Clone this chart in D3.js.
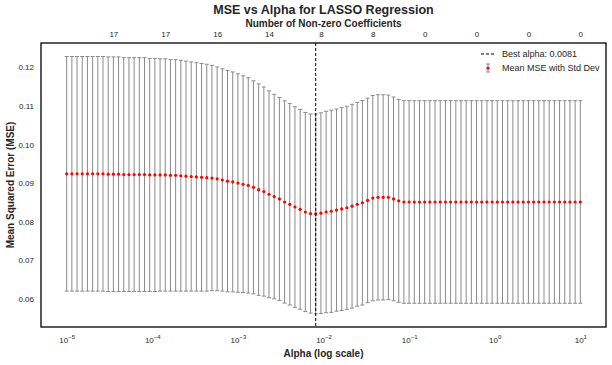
<!DOCTYPE html>
<html><head><meta charset="utf-8">
<script src="https://cdn.jsdelivr.net/npm/d3@7"></script>
<style>
html,body{margin:0;padding:0;background:#fff;}
svg{display:block;font-family:"Liberation Sans",Arial,sans-serif;}
</style></head>
<body><svg id="c" width="612" height="365"></svg>
<script>
// alpha grid: np.logspace(-5, 1, 100)
const alphaCount = 100;
const alphas = d3.range(alphaCount).map(i => Math.pow(10, -5 + 6 * i / (alphaCount - 1)));

const meanMSE = [
  0.0924,0.0924,0.0924,0.0924,0.0924,0.0924,0.0924,0.0924,0.0923,0.0923,
  0.0923,0.0922,0.0922,0.0922,0.0922,0.0922,0.0921,0.0921,0.0921,0.0921,
  0.0920,0.0920,0.0919,0.0918,0.0917,0.0916,0.0915,0.0914,0.0913,0.0911,
  0.0908,0.0905,0.0903,0.0900,0.0897,0.0894,0.0889,0.0883,0.0878,0.0871,
  0.0865,0.0859,0.0851,0.0845,0.0838,0.0832,0.0825,0.0821,0.0820,0.0822,
  0.0825,0.0827,0.0830,0.0833,0.0836,0.0840,0.0845,0.0849,0.0855,0.0861,
  0.0863,0.0863,0.0863,0.0859,0.0854,0.0851,0.0851,0.0851,0.0851,0.0851,
  0.0851,0.0851,0.0851,0.0851,0.0851,0.0851,0.0851,0.0851,0.0851,0.0851,
  0.0851,0.0851,0.0851,0.0851,0.0851,0.0851,0.0851,0.0851,0.0851,0.0851,
  0.0851,0.0851,0.0851,0.0851,0.0851,0.0851,0.0851,0.0851,0.0851,0.0851
];
const stdMSE = [
  0.0304,0.0304,0.0304,0.0304,0.0304,0.0304,0.0304,0.0304,0.0304,0.0304,
  0.0304,0.0303,0.0303,0.0303,0.0303,0.0303,0.0302,0.0302,0.0301,0.0301,
  0.0300,0.0300,0.0299,0.0298,0.0297,0.0296,0.0295,0.0294,0.0292,0.0290,
  0.0288,0.0287,0.0285,0.0283,0.0281,0.0279,0.0276,0.0274,0.0271,0.0268,
  0.0265,0.0263,0.0262,0.0261,0.0260,0.0259,0.0258,0.0258,0.0259,0.0260,
  0.0261,0.0262,0.0262,0.0263,0.0263,0.0264,0.0264,0.0265,0.0265,0.0266,
  0.0266,0.0266,0.0265,0.0264,0.0263,0.02625,0.02625,0.02625,0.02625,0.02625,
  0.02625,0.02625,0.02625,0.02625,0.02625,0.02625,0.02625,0.02625,0.02625,0.02625,
  0.02625,0.02625,0.02625,0.02625,0.02625,0.02625,0.02625,0.02625,0.02625,0.02625,
  0.02625,0.02625,0.02625,0.02625,0.02625,0.02625,0.02625,0.02625,0.02625,0.02625
];
// top axis: every 10th alpha starting at index 9
const topTickIndex = [9,19,29,39,49,59,69,79,89,99];
const nonzeroLabels = ["17","17","16","14","8","8","0","0","0","0"];
const yTicks = [0.06,0.07,0.08,0.09,0.10,0.11,0.12];
const xTickExps = [-5,-4,-3,-2,-1,0,1];

const bestIdx = d3.minIndex(meanMSE);
const bestAlpha = alphas[bestIdx];

const svg = d3.select("#c");
const L = 41, R = 606, T = 43, B = 327;
const txt = "#262626";

const x = d3.scaleLog().domain([Math.pow(10,-5.3), Math.pow(10,1.3)]).range([L, R]);
const y = d3.scaleLinear().domain([0.0527, 0.1263]).range([B, T]);

const g = svg.append("g");

// error bars
const eb = g.append("g").attr("stroke", "#8a8a8a").attr("stroke-width", 1);
alphas.forEach((a, i) => {
  const cx = x(a), y1 = y(meanMSE[i] + stdMSE[i]), y0 = y(meanMSE[i] - stdMSE[i]);
  eb.append("line").attr("x1", cx).attr("x2", cx).attr("y1", y1).attr("y2", y0);
  eb.append("line").attr("x1", cx - 2).attr("x2", cx + 2).attr("y1", y1).attr("y2", y1);
  eb.append("line").attr("x1", cx - 2).attr("x2", cx + 2).attr("y1", y0).attr("y2", y0);
});

// markers
g.append("g").selectAll("circle").data(alphas).join("circle")
  .attr("cx", d => x(d)).attr("cy", (d, i) => y(meanMSE[i]))
  .attr("r", 1.6).attr("fill", "#ff0000");

// best alpha line
g.append("line").attr("x1", x(bestAlpha)).attr("x2", x(bestAlpha))
  .attr("y1", T).attr("y2", B).attr("stroke", "#000").attr("stroke-width", 1)
  .attr("stroke-dasharray", "3,2");

// frame
svg.append("rect").attr("x", L).attr("y", T).attr("width", R - L).attr("height", B - T)
  .attr("fill", "none").attr("stroke", "#000").attr("stroke-width", 1.3);

// y axis labels
const yAxis = d3.axisLeft(y).tickValues(yTicks).tickSize(0).tickPadding(7).tickFormat(d3.format(".2f"));
const ya = svg.append("g").attr("transform", `translate(${L},0)`).call(yAxis);
ya.select(".domain").remove();
ya.selectAll("text").attr("font-size", 8).attr("fill", txt).attr("font-family", "Liberation Sans, Arial, sans-serif");

// x axis labels with superscripts
const xAxis = d3.axisBottom(x).tickValues(xTickExps.map(e => Math.pow(10, e))).tickSize(0).tickFormat("");
const xa = svg.append("g").attr("transform", `translate(0,${B})`).call(xAxis);
xa.select(".domain").remove();
xa.selectAll(".tick").each(function(d, i) {
  const t = d3.select(this).append("text").attr("y", 16).attr("fill", txt)
    .attr("font-size", 8).attr("text-anchor", "middle");
  t.append("tspan").text("10");
  t.append("tspan").attr("dy", -4).attr("font-size", 6).text(xTickExps[i] < 0 ? "\u2212" + Math.abs(xTickExps[i]) : String(xTickExps[i]));
});

// top axis labels
const topAxis = d3.axisTop(x).tickValues(topTickIndex.map(i => alphas[i])).tickSize(0).tickPadding(6)
  .tickFormat((d, i) => nonzeroLabels[i]);
const ta = svg.append("g").attr("transform", `translate(0,${T})`).call(topAxis);
ta.select(".domain").remove();
ta.selectAll("text").attr("font-size", 8).attr("fill", txt).attr("font-family", "Liberation Sans, Arial, sans-serif");

// titles
svg.append("text").attr("x", (L + R) / 2).attr("y", 14).attr("text-anchor", "middle")
  .attr("font-size", 12.5).attr("font-weight", "bold").attr("fill", txt).text("MSE vs Alpha for LASSO Regression");
svg.append("text").attr("x", (L + R) / 2).attr("y", 27).attr("text-anchor", "middle")
  .attr("font-size", 10).attr("font-weight", "bold").attr("fill", txt).text("Number of Non-zero Coefficients");
svg.append("text").attr("x", (L + R) / 2).attr("y", 357).attr("text-anchor", "middle")
  .attr("font-size", 10).attr("font-weight", "bold").attr("fill", txt).text("Alpha (log scale)");
svg.append("text").attr("transform", `translate(14,${(T + B) / 2}) rotate(-90)`).attr("text-anchor", "middle")
  .attr("font-size", 10).attr("font-weight", "bold").attr("fill", txt).text("Mean Squared Error (MSE)");

// legend
const lg = svg.append("g").attr("transform", "translate(480,54)");
lg.append("line").attr("x1", 1).attr("x2", 16).attr("y1", 0).attr("y2", 0)
  .attr("stroke", "#000").attr("stroke-width", 1).attr("stroke-dasharray", "3,2");
lg.append("text").attr("x", 22).attr("y", 3).attr("font-size", 9).attr("fill", txt).text("Best alpha: " + d3.format(".4f")(bestAlpha));
const li = lg.append("g").attr("transform", "translate(8,14)").attr("stroke", "#8a8a8a").attr("stroke-width", 1);
li.append("line").attr("x1", 0).attr("x2", 0).attr("y1", -4).attr("y2", 4);
li.append("line").attr("x1", -2).attr("x2", 2).attr("y1", -4).attr("y2", -4);
li.append("line").attr("x1", -2).attr("x2", 2).attr("y1", 4).attr("y2", 4);
lg.append("circle").attr("cx", 8).attr("cy", 14).attr("r", 1.6).attr("fill", "#ff0000");
lg.append("text").attr("x", 22).attr("y", 17).attr("font-size", 9).attr("fill", txt).text("Mean MSE with Std Dev");
</script></body></html>
